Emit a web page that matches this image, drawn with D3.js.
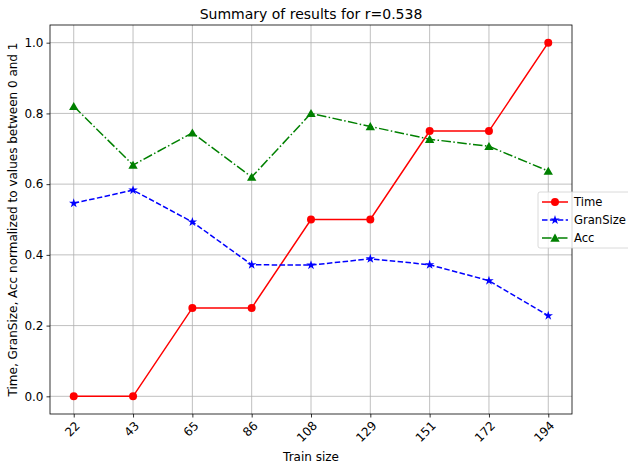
<!DOCTYPE html>
<html><head><meta charset="utf-8">
<script src="https://cdn.jsdelivr.net/npm/d3@7/dist/d3.min.js"></script>
<style>body{margin:0;background:#fff;} svg{display:block;}</style>
</head><body>
<svg id="c" width="628" height="470"></svg>
<script>
const categories = ["22","43","65","86","108","129","151","172","194"];
const timeVals = [0, 0, 0.25, 0.25, 0.5, 0.5, 0.75, 0.75, 1.0];
const granVals = [0.546, 0.583, 0.493, 0.372, 0.371, 0.389, 0.372, 0.327, 0.228];
const accVals  = [0.820, 0.654, 0.745, 0.620, 0.800, 0.763, 0.727, 0.707, 0.637];
const yTicks = [0.0, 0.2, 0.4, 0.6, 0.8, 1.0];

const svg = d3.select("#c");
const font = "DejaVu Sans, sans-serif";
const L = 50, R = 572, T = 25, B = 414;
const x = d3.scaleLinear().domain([-0.4, categories.length - 1 + 0.4]).range([L, R]);
const y = d3.scaleLinear().domain([-0.05, 1.05]).range([B, T]);

// grid
const g = svg.append("g");
categories.forEach((c, i) => {
  g.append("line").attr("x1", x(i)).attr("x2", x(i)).attr("y1", T).attr("y2", B)
    .attr("stroke", "#b0b0b0").attr("stroke-width", 0.8);
});
yTicks.forEach(v => {
  g.append("line").attr("x1", L).attr("x2", R).attr("y1", y(v)).attr("y2", y(v))
    .attr("stroke", "#b0b0b0").attr("stroke-width", 0.8);
});

// axes
const xAxis = d3.axisBottom(x).tickValues(d3.range(categories.length))
  .tickFormat(i => categories[i]).tickSize(3.5).tickPadding(3);
const xa = svg.append("g").attr("transform", `translate(0,${B})`).call(xAxis);
xa.select(".domain").remove();
xa.selectAll("line").attr("stroke", "#000").attr("stroke-width", 0.8);
xa.selectAll("text").attr("font-family", font).attr("font-size", 12).attr("fill", "#000")
  .attr("text-anchor", "end").attr("dy", null).attr("y", 0)
  .attr("transform", "translate(4,10) rotate(-45)")
  .attr("dominant-baseline", "middle");

const yAxis = d3.axisLeft(y).tickValues(yTicks).tickFormat(d3.format(".1f")).tickSize(3.5).tickPadding(3);
const ya = svg.append("g").attr("transform", `translate(${L},0)`).call(yAxis);
ya.select(".domain").remove();
ya.selectAll("line").attr("stroke", "#000").attr("stroke-width", 0.8);
ya.selectAll("text").attr("font-family", font).attr("font-size", 12).attr("fill", "#000");

svg.append("rect").attr("x", L).attr("y", T).attr("width", R - L).attr("height", B - T)
  .attr("fill", "none").attr("stroke", "#000").attr("stroke-width", 0.8);

// series
const series = [
  {name: "Time", vals: timeVals, color: "#ff0000", dash: null, marker: "circle"},
  {name: "GranSize", vals: granVals, color: "#0000ff", dash: "5.5,2.4", marker: "star"},
  {name: "Acc", vals: accVals, color: "#008000", dash: "9.6,2.4,1.5,2.4", marker: "triangle"}
];
const symFor = m => m === "circle" ? d3.symbol(d3.symbolCircle, 50)
  : m === "star" ? d3.symbol(d3.symbolStar, 28) : d3.symbol(d3.symbolTriangle, 38);

const line = d3.line().x((d, i) => x(i)).y(d => y(d));
series.forEach(s => {
  svg.append("path").attr("d", line(s.vals)).attr("fill", "none")
    .attr("stroke", s.color).attr("stroke-width", 1.5)
    .attr("stroke-dasharray", s.dash);
  svg.selectAll(null).data(s.vals).enter().append("path")
    .attr("d", symFor(s.marker))
    .attr("transform", (d, i) => `translate(${x(i)},${y(d) + (s.marker === "triangle" ? 1 : 0)})`)
    .attr("fill", s.color);
});

// title & labels
svg.append("text").attr("x", (L + R) / 2).attr("y", 19).attr("text-anchor", "middle")
  .attr("font-family", font).attr("font-size", 14).attr("fill", "#000")
  .text("Summary of results for r=0.538");
svg.append("text").attr("x", (L + R) / 2).attr("y", 461).attr("text-anchor", "middle")
  .attr("font-family", font).attr("font-size", 12).attr("fill", "#000").text("Train size");
svg.append("text").attr("transform", `translate(17,${(T + B) / 2}) rotate(-90)`)
  .attr("text-anchor", "middle").attr("font-family", font).attr("font-size", 12).attr("fill", "#000")
  .text("Time, GranSize, Acc normalized to values between 0 and 1");

// legend
const lg = svg.append("g").attr("transform", "translate(538,192)");
lg.append("rect").attr("x", 0).attr("y", 0).attr("width", 100).attr("height", 56).attr("rx", 2)
  .attr("fill", "#fff").attr("fill-opacity", 0.8).attr("stroke", "#d0d0d0").attr("stroke-width", 0.8);
series.forEach((s, i) => {
  const yy = 10 + i * 18;
  lg.append("line").attr("x1", 4).attr("x2", 30).attr("y1", yy).attr("y2", yy)
    .attr("stroke", s.color).attr("stroke-width", 1.5).attr("stroke-dasharray", s.dash);
  lg.append("path").attr("d", symFor(s.marker))
    .attr("transform", `translate(17,${yy + (s.marker === "triangle" ? 1 : 0)})`).attr("fill", s.color);
  lg.append("text").attr("x", 36).attr("y", yy).attr("dominant-baseline", "central")
    .attr("font-family", font).attr("font-size", 11.6).attr("fill", "#000").text(s.name);
});
</script>
</body></html>
